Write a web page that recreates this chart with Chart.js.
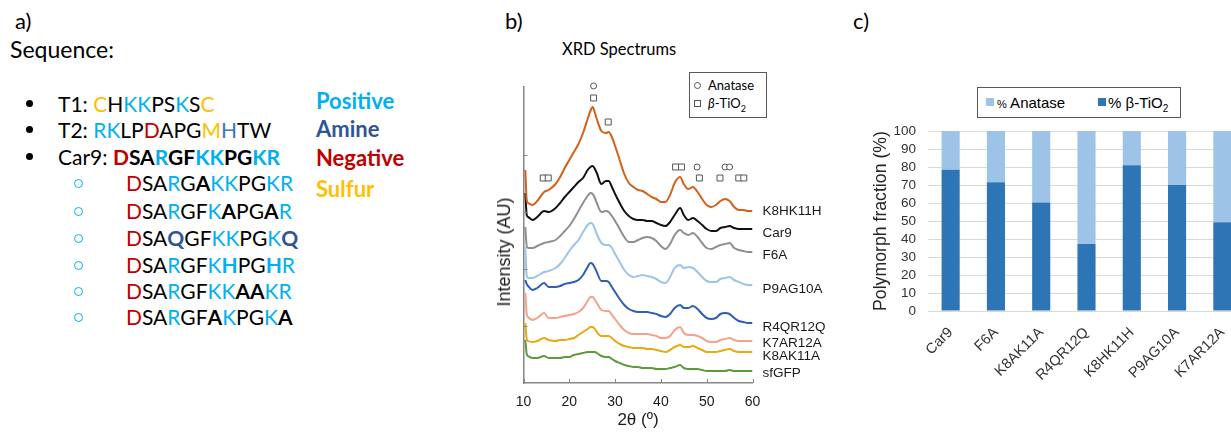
<!DOCTYPE html>
<html>
<head>
<meta charset="utf-8">
<title>Car9 variants: XRD and polymorph fraction</title>
<script src="https://cdn.jsdelivr.net/npm/chart.js"></script>
<style>
  html, body { margin: 0; padding: 0; background: #fff; }
  body { width: 1231px; height: 433px; overflow: hidden; position: relative; font-family: Lato, "Open Sans", sans-serif; color: #000; }
  .abs { position: absolute; white-space: nowrap; line-height: 1.2; }
  .seq { font-size: 21px; }
  .key { font-size: 22px; font-weight: bold; }
  .p { color: #00B0F0; }
  .a { color: #2F5597; }
  .h { color: #4472C4; }
  .n { color: #C00000; }
  .s { color: #FFC000; }
  .dot { position: absolute; width: 7px; height: 7px; border-radius: 50%; background: #000; }
  .ring { position: absolute; width: 7px; height: 7px; border-radius: 50%; border: 1.4px solid #00B0F0; }
  .box { position: absolute; border: 1px solid #595959; background: #fff; }
  .sym { position: absolute; width: 5px; height: 5px; border: 1px solid #555; }
  .chart { position: absolute; }
  .cf { font-family: "Liberation Sans", Arial, sans-serif; }
  .vtitle { position: absolute; white-space: nowrap; line-height: 1; transform: translate(-50%, -50%) rotate(-90deg); }
</style>
</head>
<body>

<!-- a) sequences -->
<div class="abs" style="left:15px;top:8px;font-size:22px">a)</div>
<div class="abs" style="left:10px;top:36px;font-size:23px">Sequence:</div>

<div class="dot" style="left:26px;top:100px"></div>
<div class="abs seq" style="left:58px;top:91px">T1: <span class="s">C</span>H<span class="p">KK</span>PS<span class="p">K</span>S<span class="s">C</span></div>
<div class="dot" style="left:26px;top:126px"></div>
<div class="abs seq" style="left:58px;top:117px">T2: <span class="p">RK</span>LP<span class="n">D</span>APG<span class="s">M</span><span class="h">H</span>TW</div>
<div class="dot" style="left:26px;top:153px"></div>
<div class="abs seq" style="left:58px;top:144px">Car9: <b><span class="n">D</span>SA<span class="p">R</span>GF<span class="p">KK</span>PG<span class="p">KR</span></b></div>

<div class="ring" style="left:74px;top:179px"></div>
<div class="abs seq" style="left:126px;top:170px"><span class="n">D</span>SA<span class="p">R</span>G<b>A</b><span class="p">KK</span>PG<span class="p">KR</span></div>
<div class="ring" style="left:74px;top:207px"></div>
<div class="abs seq" style="left:126px;top:198px"><span class="n">D</span>SA<span class="p">R</span>GF<span class="p">K</span><b>A</b>PG<b>A</b><span class="p">R</span></div>
<div class="ring" style="left:74px;top:234px"></div>
<div class="abs seq" style="left:126px;top:225px"><span class="n">D</span>SA<b class="a">Q</b>GF<span class="p">KK</span>PG<span class="p">K</span><b class="a">Q</b></div>
<div class="ring" style="left:74px;top:261px"></div>
<div class="abs seq" style="left:126px;top:252px"><span class="n">D</span>SA<span class="p">R</span>GF<span class="p">K</span><b class="p">H</b>PG<b class="p">H</b><span class="p">R</span></div>
<div class="ring" style="left:74px;top:287px"></div>
<div class="abs seq" style="left:126px;top:278px"><span class="n">D</span>SA<span class="p">R</span>GF<span class="p">KK</span><b>AA</b><span class="p">KR</span></div>
<div class="ring" style="left:74px;top:313px"></div>
<div class="abs seq" style="left:126px;top:304px"><span class="n">D</span>SA<span class="p">R</span>GF<b>A</b><span class="p">K</span>PG<span class="p">K</span><b>A</b></div>

<div class="abs key p" style="left:316px;top:88px">Positive</div>
<div class="abs key a" style="left:316px;top:116px">Amine</div>
<div class="abs key n" style="left:316px;top:145px">Negative</div>
<div class="abs key s" style="left:316px;top:176px">Sulfur</div>

<!-- b) XRD -->
<div class="abs" style="left:505px;top:8px;font-size:22px">b)</div>
<div class="abs" style="left:562px;top:40px;font-size:16.5px">XRD Spectrums</div>
<canvas id="xrd" class="chart" style="left:480px;top:70px" width="360" height="363"></canvas>
<div class="vtitle cf" style="left:504px;top:252px;font-size:18px;color:#1a1a1a">Intensity (AU)</div>
<div class="box" style="left:689px;top:72px;width:76px;height:44px"></div>
<div class="sym" style="left:694px;top:82px;border-radius:50%"></div>
<div class="abs" style="left:708px;top:77.5px;font-size:13px">Anatase</div>
<div class="sym" style="left:694px;top:100px"></div>
<div class="abs" style="left:708px;top:95.5px;font-size:13px"><i>β</i>-TiO<sub style="font-size:9px">2</sub></div>

<!-- c) polymorph fraction -->
<div class="abs" style="left:853px;top:8px;font-size:22px">c)</div>
<canvas id="poly" class="chart" style="left:840px;top:111px" width="420" height="322"></canvas>
<div class="box" style="left:977px;top:87px;width:202px;height:29px"></div>
<div style="position:absolute;left:986px;top:98px;width:8px;height:8px;background:#9DC3E6"></div>
<div class="abs cf" style="left:997px;top:93.5px;font-size:15px"><span style="font-size:11px">%</span> Anatase</div>
<div style="position:absolute;left:1098px;top:98px;width:8px;height:8px;background:#2E75B6"></div>
<div class="abs cf" style="left:1108px;top:93.5px;font-size:15px">% β-TiO<sub style="font-size:10px">2</sub></div>

<script>
// XRD patterns, intensity in a.u. (curves offset as in the figure)
const twoTheta = [10.4, 10.7, 11, 12, 13, 14.5, 15.5, 17, 18, 19, 20, 21, 22, 23, 24, 24.6, 25.1, 25.6, 26, 27,
  28, 28.6, 29.3, 30, 31, 32, 33, 34, 35, 36, 37, 38, 39, 40, 41, 42, 43, 44.2, 45, 46,
  47, 48, 49, 50, 51, 52, 53, 54, 55, 56, 57, 58, 59, 60];

const k8hk11h = [213, 183, 180, 178, 182, 191, 193, 199, 206, 215, 223, 231, 239, 250, 264, 272, 276, 270, 264, 252,
  250, 251, 246, 237, 223, 209, 200, 196, 193, 192, 189, 186, 184, 181, 181, 188, 200, 206, 199, 194,
  196, 191, 184, 178, 176, 178, 182, 184, 182, 176, 173, 173, 172, 172];
const car9 = [190, 168, 166, 163, 166, 172, 171, 175, 180, 186, 191, 196, 201, 205, 213, 216, 217, 214, 210, 199,
  202, 202, 196, 189, 180, 172, 167, 164, 163, 163, 162, 162, 160, 158, 157, 161, 168, 175, 168, 163,
  165, 162, 158, 154, 152, 152, 155, 156, 157, 155, 154, 154, 154, 154];
const f6a = [156, 137, 135, 135, 137, 140, 141, 143, 147, 152, 157, 164, 172, 180, 187, 190, 189, 185, 180, 171,
  172, 171, 167, 162, 154, 146, 141, 141, 143, 145, 146, 145, 142, 137, 134, 139, 148, 153, 150, 148,
  150, 146, 140, 135, 134, 136, 138, 139, 140, 135, 133, 132, 131, 131];
const p9ag10a = [136, 107, 105, 105, 107, 111, 112, 115, 119, 125, 132, 138, 143, 151, 158, 160, 159, 154, 149, 140,
  138, 138, 135, 129, 121, 113, 108, 106, 107, 108, 107, 106, 104, 101, 100, 106, 115, 118, 115, 116,
  115, 111, 106, 102, 101, 101, 104, 105, 106, 103, 101, 99, 98, 98];
const r4qr12q = [103, 99, 97, 93, 95, 100, 96, 96, 97, 99, 100, 101, 103, 108, 116, 120, 119, 115, 111, 102,
  102, 101, 96, 91, 84, 78, 74, 72, 71, 71, 71, 70, 69, 67, 66, 69, 75, 78, 75, 75,
  77, 74, 69, 65, 64, 65, 69, 70, 69, 65, 62, 61, 60, 60];
const k7ar12a = [90, 69, 66, 63, 65, 70, 65, 65, 66, 67, 68, 69, 71, 75, 82, 86, 86, 83, 80, 73,
  72, 72, 68, 64, 58, 53, 50, 49, 49, 49, 49, 48, 47, 45, 45, 47, 53, 56, 50, 48,
  48, 47, 45, 42, 41, 41, 43, 44, 45, 43, 42, 42, 42, 42];
const k8ak11a = [60, 44, 42, 41, 42, 45, 43, 42, 43, 43, 44, 45, 48, 51, 54, 56, 56, 54, 51, 47,
  47, 47, 45, 42, 39, 37, 36, 35, 35, 35, 34, 34, 33, 32, 31, 33, 36, 38, 36, 36,
  37, 35, 33, 31, 31, 31, 32, 33, 34, 32, 31, 31, 31, 31];
const sfgfp = [43, 29, 27, 25, 25, 27, 25, 25, 25, 26, 26, 28, 29, 30, 31, 31, 31, 31, 30, 27,
  26, 26, 24, 22, 20, 18, 17, 16, 16, 15, 15, 15, 14, 14, 14, 15, 16, 18, 15, 14,
  14, 14, 13, 12, 12, 12, 12, 12, 13, 12, 12, 12, 12, 12];

const spectrumNames = ['K8HK11H', 'Car9', 'F6A', 'P9AG10A', 'R4QR12Q', 'K7AR12A', 'K8AK11A', 'sfGFP'];
const spectrumValues = [k8hk11h, car9, f6a, p9ag10a, r4qr12q, k7ar12a, k8ak11a, sfgfp];
const spectrumColors = ['#D4601C', '#111111', '#8F8F8F', '#9CC3EA', '#2F5FB3', '#F4A28C', '#E8AA0C', '#5E9A3A'];
const labelNudge = [0, 4, 3, 4, 4, 2, 4, 2]; // px, label placement next to curve ends

// reflection markers (2θ, height in a.u.)
const anataseAt = [25.3, 47.9, 54.0, 55.0];
const anataseMarkY = [297, 216, 216, 216];
const betaAt = [25.3, 28.5, 14.3, 15.4, 43.2, 44.5, 48.4, 52.9, 57.0, 58.1];
const betaMarkY = [285, 261, 205, 205, 216, 216, 205, 205, 205, 205];

// polymorph fractions (%)
const variants = ['Car9', 'F6A', 'K8AK11A', 'R4QR12Q', 'K8HK11H', 'P9AG10A', 'K7AR12A'];
const betaPct = [78.5, 71.5, 60.3, 37.2, 81, 70, 49.3];
const anatasePct = [21.5, 28.5, 39.7, 62.8, 19, 30, 50.7];

Chart.defaults.font.family = '"Liberation Sans", Arial, sans-serif';
Chart.defaults.color = '#333';

const pairs = (xs, ys) => xs.map((x, i) => ({ x, y: ys[i] }));

// small tick marks drawn inside the plot, like the original
const innerTicks = {
  id: 'innerTicks',
  afterDraw(chart) {
    const { ctx, chartArea, scales: { x, y } } = chart;
    ctx.save();
    ctx.strokeStyle = '#868686';
    ctx.lineWidth = 1;
    ctx.beginPath();
    x.ticks.forEach(t => {
      const px = Math.round(x.getPixelForValue(t.value)) + 0.5;
      ctx.moveTo(px, chartArea.bottom);
      ctx.lineTo(px, chartArea.bottom - 4);
    });
    y.ticks.forEach(t => {
      if (t.value <= 0 || t.value % 57 !== 0) return;
      const py = Math.round(y.getPixelForValue(t.value)) + 0.5;
      ctx.moveTo(chartArea.left, py);
      ctx.lineTo(chartArea.left + 4, py);
    });
    ctx.stroke();
    ctx.restore();
  }
};

const endLabels = {
  id: 'endLabels',
  afterDatasetsDraw(chart) {
    const { ctx, scales: { x, y } } = chart;
    ctx.save();
    ctx.font = '13.5px "Liberation Sans", Arial, sans-serif';
    ctx.fillStyle = '#1a1a1a';
    ctx.textBaseline = 'middle';
    spectrumNames.forEach((name, i) => {
      const vals = spectrumValues[i];
      ctx.fillText(name, x.right + 10, y.getPixelForValue(vals[vals.length - 1]) + labelNudge[i]);
    });
    ctx.restore();
  }
};

const lineSets = spectrumNames.map((name, i) => ({
  label: name,
  data: pairs(twoTheta, spectrumValues[i]),
  borderColor: spectrumColors[i],
  borderWidth: 2,
  pointRadius: 0,
  cubicInterpolationMode: 'monotone',
  fill: false
}));

new Chart(document.getElementById('xrd'), {
  type: 'line',
  data: {
    datasets: [
      ...lineSets,
      { type: 'scatter', label: 'Anatase', data: pairs(anataseAt, anataseMarkY), pointStyle: 'circle', pointRadius: 3,
        borderColor: '#555', backgroundColor: '#fff', borderWidth: 1, clip: false },
      { type: 'scatter', label: 'β-TiO2', data: pairs(betaAt, betaMarkY), pointStyle: 'rect', pointRadius: 4.2,
        borderColor: '#555', backgroundColor: '#fff', borderWidth: 1, clip: false }
    ]
  },
  options: {
    responsive: false,
    animation: false,
    devicePixelRatio: 1,
    layout: { padding: { top: 17, right: 87.5, left: 0, bottom: 0 } },
    plugins: { legend: { display: false }, tooltip: { enabled: false } },
    scales: {
      x: {
        type: 'linear', min: 10, max: 60,
        ticks: { stepSize: 10, font: { size: 14 }, color: '#1a1a1a', padding: 11 },
        grid: { display: false, drawTicks: false },
        border: { color: '#868686', width: 1.5 },
        title: { display: true, text: '2θ (º)', font: { size: 17 }, color: '#1a1a1a', padding: { top: 0, bottom: 2 } },
        afterFit: s => { s.height = 50; }
      },
      y: {
        min: 0, max: 296,
        ticks: { display: false, stepSize: 57 },
        grid: { display: false, drawTicks: false },
        border: { color: '#868686', width: 1.5 },
        afterFit: s => { s.width = 43.5; }
      }
    }
  },
  plugins: [innerTicks, endLabels]
});

new Chart(document.getElementById('poly'), {
  type: 'bar',
  data: {
    labels: variants,
    datasets: [
      { label: '% β-TiO2', data: betaPct, backgroundColor: '#2E75B6', barPercentage: 0.4, categoryPercentage: 1 },
      { label: '% Anatase', data: anatasePct, backgroundColor: '#9DC3E6', barPercentage: 0.4, categoryPercentage: 1 }
    ]
  },
  options: {
    responsive: false,
    animation: false,
    devicePixelRatio: 1,
    layout: { padding: { top: 2, right: 15, left: 0, bottom: 0 } },
    plugins: { legend: { display: false }, tooltip: { enabled: false } },
    scales: {
      x: {
        stacked: true,
        grid: { display: false, drawTicks: false },
        border: { display: false },
        ticks: { minRotation: 45, maxRotation: 45, font: { size: 14.5 }, color: '#333', padding: 13 },
        afterFit: s => { s.height = 122; }
      },
      y: {
        stacked: true, min: 0, max: 100,
        ticks: { stepSize: 10, autoSkip: false, font: { size: 13.5 }, color: '#333', padding: 12 },
        grid: { color: '#D9D9D9', drawTicks: false },
        border: { display: false },
        title: { display: true, text: 'Polymorph fraction (%)', font: { size: 17.7 }, color: '#262626', padding: { top: 30 } },
        afterFit: s => { s.width = 88; }
      }
    }
  }
});
</script>
</body>
</html>
